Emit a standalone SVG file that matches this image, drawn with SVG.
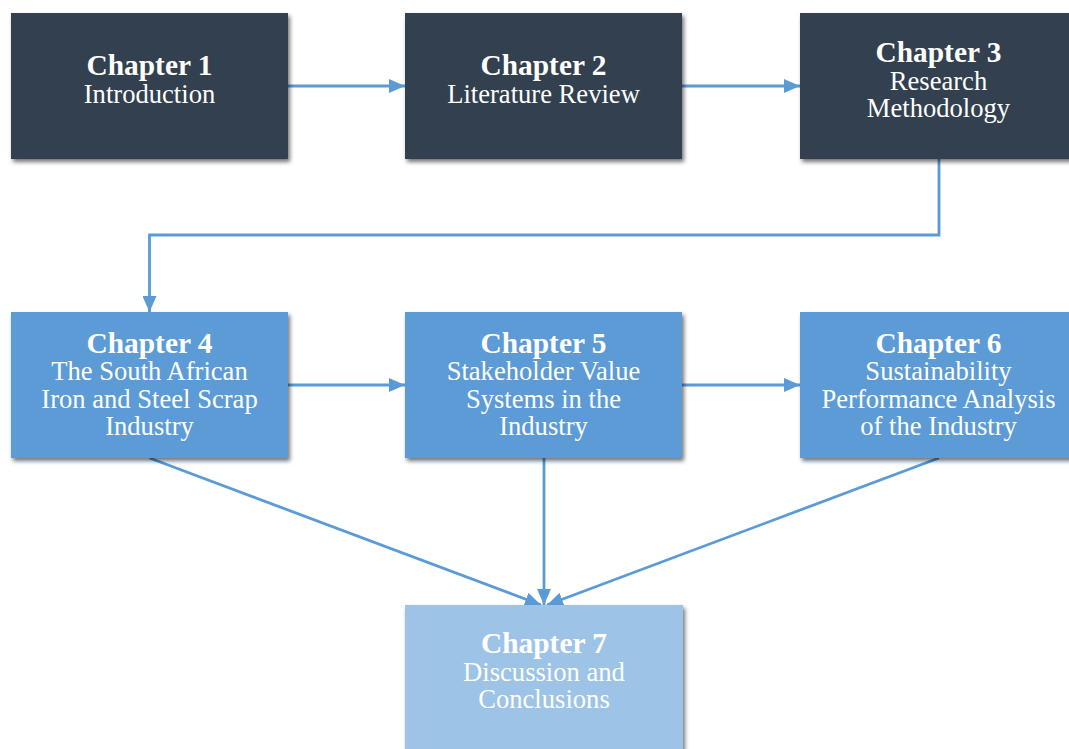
<svg xmlns="http://www.w3.org/2000/svg" width="1069" height="749" viewBox="0 0 1069 749">
<defs>
<filter id="sh" x="-10%" y="-10%" width="125%" height="130%">
<feDropShadow dx="2" dy="3" stdDeviation="2.2" flood-color="#000" flood-opacity="0.55"/>
</filter>
<marker id="ah" viewBox="0 0 16 14" refX="16" refY="7" markerWidth="16" markerHeight="14" markerUnits="userSpaceOnUse" orient="auto">
<path d="M0,0 L16,7 L0,14 Z" fill="#5B9BD5"/>
</marker>
<style>
.box{filter:url(#sh);}
.dark{fill:#333F50;}
.mid{fill:#5B9BD5;}
.light{fill:#9DC3E6;}
text{font-family:"Liberation Serif","Times New Roman",serif;fill:#FFFFFF;text-anchor:middle;font-size:26.6px;}
.t{font-weight:bold;font-size:29.4px;}
.c{fill:none;stroke:#5B9BD5;stroke-width:2.8;marker-end:url(#ah);}
</style>
</defs>
<rect width="1069" height="749" fill="#FFFFFF"/>
<g id="connectors">
<line class="c" x1="288" y1="86" x2="405" y2="86"/>
<line class="c" x1="682" y1="86" x2="800" y2="86"/>
<polyline class="c" points="939,159 939,235 149.5,235 149.5,312"/>
<line class="c" x1="288" y1="385" x2="405" y2="385"/>
<line class="c" x1="682" y1="385" x2="800" y2="385"/>
<line class="c" x1="149.5" y1="458" x2="541" y2="605"/>
<line class="c" x1="544" y1="458" x2="544" y2="605"/>
<line class="c" x1="939" y1="458" x2="547" y2="605"/>
</g>
<g id="node1">
<rect class="box dark" x="11" y="13" width="277" height="146"/>
<text class="t" x="149.5" y="75">Chapter 1</text>
<text x="149.5" y="103">Introduction</text>
</g>
<g id="node2">
<rect class="box dark" x="405" y="13" width="277" height="146"/>
<text class="t" x="543.5" y="75">Chapter 2</text>
<text x="543.5" y="103">Literature Review</text>
</g>
<g id="node3">
<rect class="box dark" x="800" y="13" width="277" height="146"/>
<text class="t" x="938.5" y="62">Chapter 3</text>
<text x="938.5" y="90">Research</text>
<text x="938.5" y="117">Methodology</text>
</g>
<g id="node4">
<rect class="box mid" x="11" y="312" width="277" height="146"/>
<text class="t" x="149.5" y="353">Chapter 4</text>
<text x="149.5" y="380">The South African</text>
<text x="149.5" y="408">Iron and Steel Scrap</text>
<text x="149.5" y="435">Industry</text>
</g>
<g id="node5">
<rect class="box mid" x="405" y="312" width="277" height="146"/>
<text class="t" x="543.5" y="353">Chapter 5</text>
<text x="543.5" y="380">Stakeholder Value</text>
<text x="543.5" y="408">Systems in the</text>
<text x="543.5" y="435">Industry</text>
</g>
<g id="node6">
<rect class="box mid" x="800" y="312" width="277" height="146"/>
<text class="t" x="938.5" y="353">Chapter 6</text>
<text x="938.5" y="380">Sustainability</text>
<text x="938.5" y="408">Performance Analysis</text>
<text x="938.5" y="435">of the Industry</text>
</g>
<g id="node7">
<rect class="box light" x="405" y="605" width="278" height="148"/>
<text class="t" x="544" y="653">Chapter 7</text>
<text x="544" y="681">Discussion and</text>
<text x="544" y="708">Conclusions</text>
</g>
</svg>
